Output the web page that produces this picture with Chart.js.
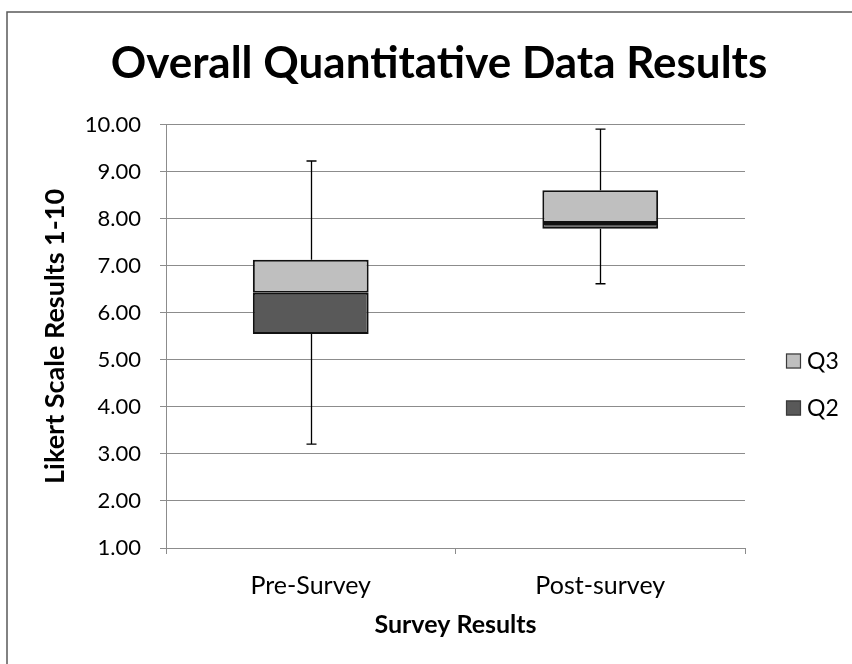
<!DOCTYPE html>
<html>
<head>
<meta charset="utf-8">
<script src="https://cdn.jsdelivr.net/npm/chart.js@4"></script>
<style>
  html, body { margin: 0; padding: 0; background: #fff; }
  #wrap { width: 852px; height: 664px; }
</style>
</head>
<body>
<div id="wrap"><canvas id="boxChart" width="852" height="664"></canvas></div>
<script>
// values
const categories = ['Pre-Survey', 'Post-survey'];
const minVals = [3.21, 6.62];
const q1Vals = [5.55, 7.79];
const medianVals = [6.43, 7.91];
const q3Vals = [7.13, 8.61];
const maxVals = [9.23, 9.91];

const FONT = 'Lato, "Open Sans", sans-serif';

//lower box = Q1..median, upper box = median..Q3
const q2Data = categories.map((c, i) => [q1Vals[i], medianVals[i]]);
const q3Data = categories.map((c, i) => [medianVals[i], q3Vals[i]]);

//outer frame round the whole chart
const framePlugin = {
    id: 'frame',
    beforeDraw(chart) {
        const ctx = chart.ctx;
        ctx.save();
        ctx.fillStyle = '#fff';
        ctx.fillRect(0, 0, chart.width, chart.height);
        ctx.strokeStyle = '#5a5a5a';
        ctx.lineWidth = 1.5;
        ctx.strokeRect(7, 12, chart.width + 20, chart.height + 20);
        ctx.restore();
    }
};

//whiskers drawn from the min / max arrays through the scales
const whiskerPlugin = {
    id: 'whiskers',
    afterDatasetsDraw(chart) {
        const ctx = chart.ctx;
        const x = chart.scales.x;
        const y = chart.scales.y;
        ctx.save();
        ctx.strokeStyle = '#000';
        ctx.lineWidth = 1.3;
        categories.forEach((c, i) => {
            const px = Math.round(x.getPixelForValue(i)) + 0.5;
            const yMax = y.getPixelForValue(maxVals[i]);
            const yQ3 = y.getPixelForValue(q3Vals[i]);
            const yQ1 = y.getPixelForValue(q1Vals[i]);
            const yMin = y.getPixelForValue(minVals[i]);
            ctx.beginPath();
            ctx.moveTo(px, yQ3); ctx.lineTo(px, yMax);
            ctx.moveTo(px - 5, yMax); ctx.lineTo(px + 5, yMax);
            ctx.moveTo(px, yQ1); ctx.lineTo(px, yMin);
            ctx.moveTo(px - 5, yMin); ctx.lineTo(px + 5, yMin);
            ctx.stroke();
        });
        ctx.restore();
    }
};

//legend on the right, Q3 above Q2
const legendPlugin = {
    id: 'sideLegend',
    afterDraw(chart) {
        const ctx = chart.ctx;
        const order = [1, 0];
        ctx.save();
        ctx.font = '23px ' + FONT;
        ctx.textBaseline = 'middle';
        order.forEach((dsIndex, k) => {
            const ds = chart.data.datasets[dsIndex];
            const cy = 361 + k * 47;
            ctx.fillStyle = ds.backgroundColor;
            ctx.fillRect(786, cy - 7.5, 15, 15);
            ctx.strokeStyle = '#3a3a3a';
            ctx.lineWidth = 1.2;
            ctx.strokeRect(786.5, cy - 7, 14, 14);
            ctx.fillStyle = '#000';
            ctx.fillText(ds.label, 807, cy + 1);
        });
        ctx.restore();
    }
};

const ctx = document.getElementById('boxChart').getContext('2d');
new Chart(ctx, {
    type: 'bar',
    data: {
        labels: categories,
        datasets: [{
            label: 'Q2',
            data: q2Data,
            backgroundColor: '#595959',
            borderColor: '#111',
            borderWidth: 2,
            borderSkipped: false,
            categoryPercentage: 1,
            barPercentage: 0.4
        }, {
            label: 'Q3',
            data: q3Data,
            backgroundColor: '#bfbfbf',
            borderColor: '#111',
            borderWidth: 2,
            borderSkipped: false,
            categoryPercentage: 1,
            barPercentage: 0.4
        }]
    },
    options: {
        responsive: false,
        animation: false,
        layout: { padding: { left: 26, right: 0, top: 0, bottom: 0 } },
        plugins: {
            legend: { display: false },
            tooltip: { enabled: false },
            title: {
                display: true,
                text: 'Overall Quantitative Data Results',
                color: '#000',
                font: { family: FONT, size: 44, weight: 'bold' },
                padding: { top: 37, bottom: 35 }
            }
        },
        scales: {
            x: {
                stacked: true,
                grid: { display: true, drawOnChartArea: false, drawTicks: true, tickLength: 6, color: '#8c8c8c', offset: true },
                border: { color: '#8c8c8c' },
                ticks: { color: '#000', font: { family: FONT, size: 25 }, padding: 17 },
                title: {
                    display: true,
                    text: 'Survey Results',
                    color: '#000',
                    font: { family: FONT, size: 25, weight: 'bold' },
                    padding: { top: 0, bottom: 24 }
                },
                afterFit(scale) { scale.height = 116; }
            },
            y: {
                min: 1,
                max: 10,
                grid: { color: '#8c8c8c', tickLength: 6 },
                border: { color: '#8c8c8c' },
                ticks: {
                    stepSize: 1,
                    color: '#000',
                    font: { family: FONT, size: 22 },
                    padding: 19,
                    callback: v => v.toFixed(2)
                },
                title: {
                    display: true,
                    text: 'Likert Scale Results 1-10',
                    color: '#000',
                    font: { family: FONT, size: 27, weight: 'bold' },
                    padding: { top: 13, bottom: 0 }
                },
                afterFit(scale) { scale.width = 140; }
            },
            yr: {
                position: 'right',
                display: true,
                grid: { display: false },
                border: { display: false },
                ticks: { display: false },
                afterFit(scale) { scale.width = 107; }
            }
        }
    },
    plugins: [framePlugin, whiskerPlugin, legendPlugin]
});
</script>
</body>
</html>
